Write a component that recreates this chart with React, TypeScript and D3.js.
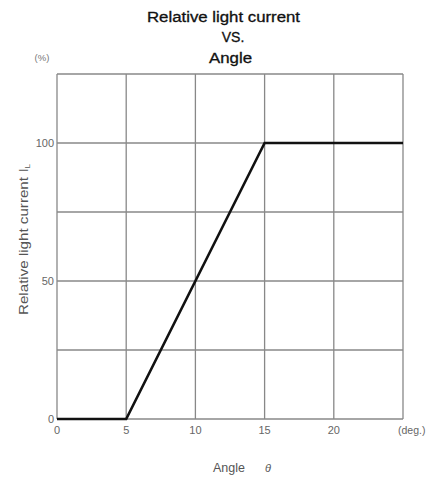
import React from "react";
import * as d3 from "d3";

const xData = [0, 5, 15, 25];
const yData = [0, 0, 100, 100];
const xTicks = [0, 5, 10, 15, 20, 25];
const xTickLabels = ["0", "5", "10", "15", "20", ""];
const yGrid = [0, 25, 50, 75, 100, 125];
const yTickLabels = [0, 50, 100];

export default function App() {
  const W = 432, H = 479;
  const x = d3.scaleLinear().domain([0, 25]).range([57, 403]);
  const y = d3.scaleLinear().domain([0, 125]).range([419, 74]);
  const line = d3.line<number>().x((d, i) => x(xData[i])).y((d) => y(d));
  const font = "Liberation Sans, Arial, sans-serif";
  return (
    <svg width={W} height={H} style={{ position: "absolute", left: 0, top: 0, background: "#fff" }} fontFamily={font}>
      {xTicks.map((t) => (
        <line key={"vx" + t} x1={x(t)} x2={x(t)} y1={y(0)} y2={y(125)} stroke="#888" strokeWidth={1.3} />
      ))}
      {yGrid.map((t) => (
        <line key={"hy" + t} x1={x(0)} x2={x(25)} y1={y(t)} y2={y(t)} stroke="#888" strokeWidth={1.3} />
      ))}
      <path d={line(yData) || ""} fill="none" stroke="#111" strokeWidth={2.6} strokeLinejoin="miter" />
      {xTicks.map((t, i) => (
        <text key={"xl" + t} x={x(t)} y={434} textAnchor="middle" fontSize={11} fill="#666">{xTickLabels[i]}</text>
      ))}
      {yTickLabels.map((t) => (
        <text key={"yl" + t} x={x(0) - 3} y={y(t) + 4} textAnchor="end" fontSize={11} fill="#666">{t}</text>
      ))}
      <text x={398} y={434} textAnchor="start" fontSize={10.5} fill="#666">(deg.)</text>
      <text x={42} y={61} textAnchor="middle" fontSize={9.5} fill="#777">(%)</text>
      <text x={147} y={22} textLength={153} lengthAdjust="spacingAndGlyphs" fontSize={14} fill="#111" stroke="#111" strokeWidth={0.3}>Relative light current</text>
      <text x={233} y={42} textAnchor="middle" fontSize={14} fill="#111" stroke="#111" strokeWidth={0.3}>VS.</text>
      <text x={209} y={63} textLength={43} lengthAdjust="spacingAndGlyphs" fontSize={14} fill="#111" stroke="#111" strokeWidth={0.3}>Angle</text>
      <text x={213} y={472} textAnchor="start" fontSize={12.5} fill="#555">Angle</text>
      <text x={265} y={472} textAnchor="start" fontSize={11} fontStyle="italic" fill="#555">θ</text>
      <text transform="translate(28,315) rotate(-90)" textAnchor="start" fontSize={12.5} fill="#555">
        <tspan textLength={138} lengthAdjust="spacingAndGlyphs">Relative light current</tspan>
        <tspan dx={5}>I</tspan><tspan fontSize={8} dy={2}>L</tspan>
      </text>
    </svg>
  );
}
